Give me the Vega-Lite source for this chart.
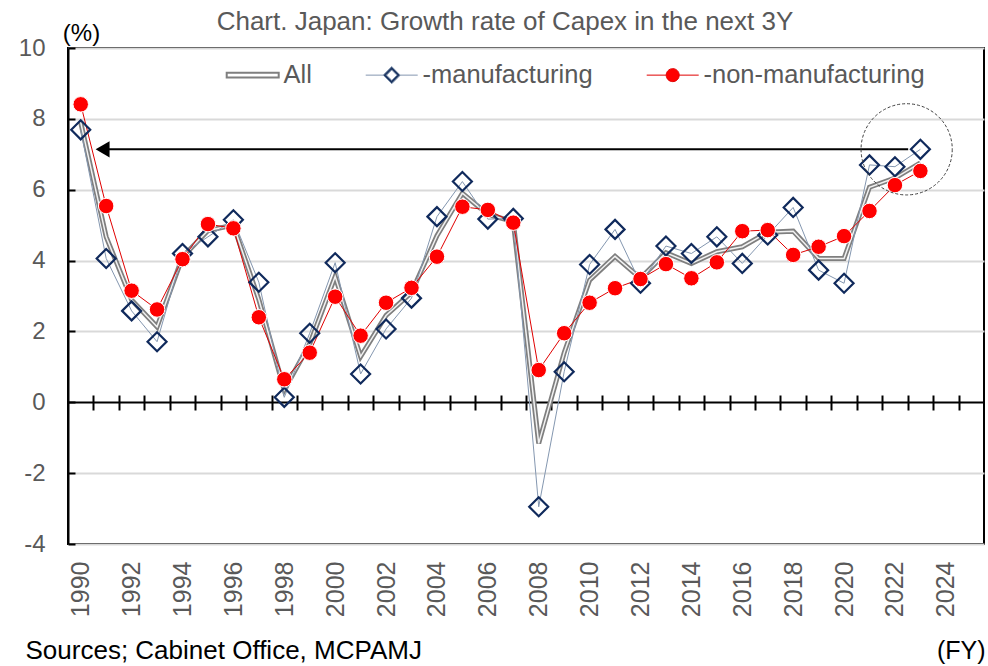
{
  "$schema": "https://vega.github.io/schema/vega-lite/v6.json",
  "width": 916,
  "height": 496,
  "autosize": {"type": "none"},
  "padding": {"left": 68, "top": 48, "right": 4, "bottom": 122},
  "background": "white",
  "config": {
    "font": "Liberation Sans",
    "view": {"stroke": "black", "strokeWidth": 2}
  },
  "title": {
    "text": "Chart. Japan: Growth rate of Capex in the next 3Y",
    "fontSize": 26,
    "fontWeight": "normal",
    "color": "#595959",
    "anchor": "middle",
    "dx": -21,
    "baseline": "alphabetic",
    "offset": -35
  },
  "data": {
    "values": [
      {"year": 1990, "All": 7.9, "manufacturing": 7.69, "non-manufacturing": 8.41},
      {"year": 1991, "All": 4.67, "manufacturing": 4.06, "non-manufacturing": 5.54},
      {"year": 1992, "All": 2.89, "manufacturing": 2.58, "non-manufacturing": 3.15},
      {"year": 1993, "All": 2.13, "manufacturing": 1.71, "non-manufacturing": 2.62},
      {"year": 1994, "All": 4.1, "manufacturing": 4.2, "non-manufacturing": 4.04},
      {"year": 1995, "All": 4.85, "manufacturing": 4.67, "non-manufacturing": 5.03},
      {"year": 1996, "All": 5.0, "manufacturing": 5.15, "non-manufacturing": 4.91},
      {"year": 1997, "All": 2.9, "manufacturing": 3.39, "non-manufacturing": 2.4},
      {"year": 1998, "All": 0.35, "manufacturing": 0.14, "non-manufacturing": 0.65},
      {"year": 1999, "All": 1.65, "manufacturing": 1.95, "non-manufacturing": 1.4},
      {"year": 2000, "All": 3.55, "manufacturing": 3.94, "non-manufacturing": 2.98},
      {"year": 2001, "All": 1.29, "manufacturing": 0.8, "non-manufacturing": 1.88},
      {"year": 2002, "All": 2.45, "manufacturing": 2.07, "non-manufacturing": 2.81},
      {"year": 2003, "All": 3.1, "manufacturing": 2.94, "non-manufacturing": 3.23},
      {"year": 2004, "All": 4.7, "manufacturing": 5.24, "non-manufacturing": 4.11},
      {"year": 2005, "All": 5.9, "manufacturing": 6.23, "non-manufacturing": 5.52},
      {"year": 2006, "All": 5.3, "manufacturing": 5.17, "non-manufacturing": 5.43},
      {"year": 2007, "All": 5.1, "manufacturing": 5.19, "non-manufacturing": 5.07},
      {"year": 2008, "All": -1.16, "manufacturing": -2.95, "non-manufacturing": 0.91},
      {"year": 2009, "All": 1.4, "manufacturing": 0.86, "non-manufacturing": 1.95},
      {"year": 2010, "All": 3.45, "manufacturing": 3.89, "non-manufacturing": 2.81},
      {"year": 2011, "All": 4.12, "manufacturing": 4.88, "non-manufacturing": 3.22},
      {"year": 2012, "All": 3.5, "manufacturing": 3.36, "non-manufacturing": 3.48},
      {"year": 2013, "All": 4.22, "manufacturing": 4.41, "non-manufacturing": 3.9},
      {"year": 2014, "All": 3.92, "manufacturing": 4.2, "non-manufacturing": 3.5},
      {"year": 2015, "All": 4.25, "manufacturing": 4.67, "non-manufacturing": 3.95},
      {"year": 2016, "All": 4.39, "manufacturing": 3.92, "non-manufacturing": 4.83},
      {"year": 2017, "All": 4.8, "manufacturing": 4.72, "non-manufacturing": 4.86},
      {"year": 2018, "All": 4.83, "manufacturing": 5.5, "non-manufacturing": 4.16},
      {"year": 2019, "All": 4.06, "manufacturing": 3.73, "non-manufacturing": 4.39},
      {"year": 2020, "All": 4.06, "manufacturing": 3.36, "non-manufacturing": 4.69},
      {"year": 2021, "All": 6.07, "manufacturing": 6.7, "non-manufacturing": 5.4},
      {"year": 2022, "All": 6.33, "manufacturing": 6.65, "non-manufacturing": 6.13},
      {"year": 2023, "All": 6.76, "manufacturing": 7.14, "non-manufacturing": 6.53}
    ]
  },
  "transform": [
    {"fold": ["All", "manufacturing", "non-manufacturing"], "as": ["series", "value"]}
  ],
  "encoding": {
    "x": {"field": "year", "type": "quantitative", "scale": {"domain": [1989.5, 2025.5], "nice": false, "zero": false}, "axis": null},
    "y": {
      "field": "value",
      "type": "quantitative",
      "scale": {"domain": [-4, 10], "nice": false, "zero": false},
      "axis": {
        "values": [-4, -2, 0, 2, 4, 6, 8, 10],
        "labelExpr": "datum.value < 0 ? '-' + abs(datum.value) : '' + datum.value",
        "grid": true,
        "gridColor": {"condition": {"test": "datum.value === 0", "value": "black"}, "value": "#d9d9d9"},
        "gridWidth": 2,
        "domainColor": "black",
        "domainWidth": 2,
        "tickColor": "black",
        "tickWidth": 2,
        "tickSize": -7,
        "labelPadding": 30,
        "labelFlush": false,
        "labelFontSize": 24,
        "labelColor": "#595959",
        "title": "(%)",
        "titleAngle": 0,
        "titleX": 13,
        "titleY": -8,
        "titleAlign": "center",
        "titleBaseline": "alphabetic",
        "titleFontSize": 24,
        "titleFontWeight": "normal",
        "titleColor": "black"
      }
    }
  },
  "resolve": {"axis": {"x": "independent"}},
  "layer": [
    {
      "transform": [{"filter": "datum.series === 'All'"}],
      "mark": {"type": "line", "stroke": "#7f7f7f", "strokeWidth": 5},
      "encoding": {
        "x": {
          "field": "year", "type": "quantitative",
          "axis": {
            "orient": "bottom",
            "values": [1990, 1992, 1994, 1996, 1998, 2000, 2002, 2004, 2006, 2008, 2010, 2012, 2014, 2016, 2018, 2020, 2022, 2024],
            "format": "d",
            "ticks": false,
            "domain": false,
            "grid": false,
            "labelAngle": 270,
            "labelAlign": "right",
            "labelBaseline": "middle",
            "labelPadding": 17,
            "labelFlush": false,
            "labelOverlap": false,
            "labelFontSize": 25,
            "labelColor": "#595959",
            "title": "(FY)",
            "titleX": 917,
            "titleY": 114,
            "titleAlign": "right",
            "titleBaseline": "alphabetic",
            "titleFontSize": 25,
            "titleFontWeight": "normal",
            "titleColor": "black"
          }
        }
      }
    },
    {
      "transform": [{"filter": "datum.series === 'All'"}],
      "mark": {"type": "line", "stroke": "#f2f2f2", "strokeWidth": 1.5},
      "encoding": {
        "x": {
          "field": "year", "type": "quantitative",
          "axis": {
            "orient": "top",
            "offset": -362,
            "values": [1990.5, 1991.5, 1992.5, 1993.5, 1994.5, 1995.5, 1996.5, 1997.5, 1998.5, 1999.5, 2000.5, 2001.5, 2002.5, 2003.5, 2004.5, 2005.5, 2006.5, 2007.5, 2008.5, 2009.5, 2010.5, 2011.5, 2012.5, 2013.5, 2014.5, 2015.5, 2016.5, 2017.5, 2018.5, 2019.5, 2020.5, 2021.5, 2022.5, 2023.5, 2024.5],
            "labels": false,
            "domain": false,
            "grid": false,
            "ticks": true,
            "tickSize": 15,
            "tickWidth": 2,
            "tickColor": "black",
            "title": "Sources; Cabinet Office, MCPAMJ",
            "titleX": -43,
            "titleY": 248,
            "titleAlign": "left",
            "titleBaseline": "alphabetic",
            "titleAngle": 0,
            "titleFontSize": 26,
            "titleFontWeight": "normal",
            "titleColor": "black"
          }
        }
      }
    },
    {
      "transform": [{"filter": "datum.series !== 'All'"}],
      "mark": {"type": "line", "strokeWidth": 1},
      "encoding": {
        "color": {
          "field": "series",
          "type": "nominal",
          "scale": {"domain": ["All", "manufacturing", "non-manufacturing"], "range": ["#7f7f7f", "#8497b0", "#e00000"]},
          "legend": {
            "orient": "none",
            "legendX": 160,
            "legendY": 14,
            "direction": "horizontal",
            "title": null,
            "labelFontSize": 25.5,
            "labelColor": "#595959",
            "labelOffset": 30,
            "labelLimit": 400,
            "columnPadding": 51,
            "symbolSize": 2704,
            "labelExpr": "datum.label === 'All' ? 'All' : '-' + datum.label",
            "encode": {
              "symbols": {
                "update": {
                  "shape": {"signal": "datum.value === 'All' ? 'M-0.54,-0.09H1.46V0.09H-0.54Z' : datum.value === 'manufacturing' ? 'M-0.54,0H0.13M0.79,0H1.46M0.46,-0.33L0.79,0L0.46,0.33L0.13,0ZM0.46,-0.2L0.26,0L0.46,0.2L0.66,0Z' : 'M-0.54,0H0.21M0.71,0H1.46M0.21,0A0.25,0.25,0,1,0,0.71,0A0.25,0.25,0,1,0,0.21,0Z'"},
                  "fill": {"signal": "datum.value === 'All' ? '#ffffff' : datum.value === 'manufacturing' ? '#1f3864' : '#ff0000'"},
                  "stroke": {"signal": "datum.value === 'All' ? '#7f7f7f' : datum.value === 'manufacturing' ? '#a9b7d1' : '#e06666'"},
                  "strokeWidth": {"signal": "datum.value === 'All' ? 2 : 1"},
                  "opacity": {"value": 1},
                  "fillOpacity": {"value": 1},
                  "strokeOpacity": {"value": 1}
                }
              }
            }
          }
        }
      }
    },
    {
      "transform": [{"filter": "datum.series === 'manufacturing'"}],
      "mark": {"type": "point", "shape": "diamond", "filled": false, "stroke": "#102a5c", "strokeWidth": 2.2, "size": 361, "opacity": 1}
    },
    {
      "transform": [{"filter": "datum.series === 'non-manufacturing'"}],
      "mark": {"type": "point", "shape": "circle", "filled": true, "fill": "#ff0000", "stroke": "white", "strokeWidth": 1, "size": 240, "opacity": 1}
    },
    {
      "transform": [{"filter": "datum.series === 'manufacturing' && datum.year === 2023"}],
      "mark": {"type": "rule", "color": "black", "strokeWidth": 2},
      "encoding": {
        "x": {"datum": 2022.52, "type": "quantitative", "axis": null},
        "x2": {"datum": 1990.9}
      }
    },
    {
      "transform": [{"filter": "datum.series === 'manufacturing' && datum.year === 2023"}],
      "mark": {"type": "point", "shape": "triangle-left", "filled": true, "color": "black", "size": 260, "opacity": 1},
      "encoding": {
        "x": {"datum": 1990.86, "type": "quantitative", "axis": null}
      }
    },
    {
      "transform": [{"filter": "datum.series === 'manufacturing' && datum.year === 2023"}],
      "mark": {"type": "point", "shape": "circle", "filled": false, "stroke": "#404040", "strokeWidth": 1, "strokeDash": [3, 2], "size": 8317, "opacity": 1},
      "encoding": {
        "x": {"datum": 2022.46, "type": "quantitative", "axis": null}
      }
    }
  ]
}
